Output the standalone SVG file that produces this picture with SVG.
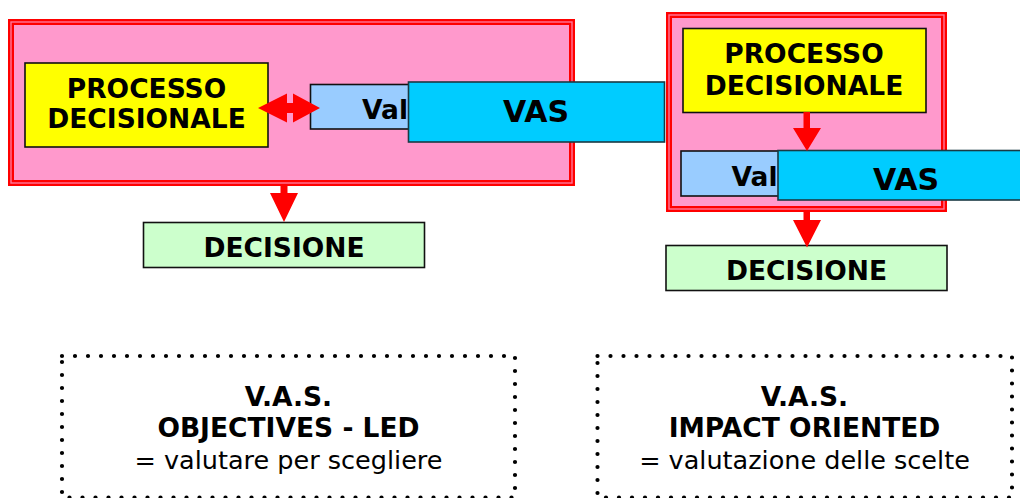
<svg xmlns="http://www.w3.org/2000/svg" width="1020" height="498" viewBox="0 0 1020 498">
<style>
.frame{fill:#FF99CC;stroke:#FF0000;stroke-width:6}
.frame2{fill:none;stroke:#FF7799;stroke-width:1.4}
.box{stroke:#111;stroke-width:1.6}
.yel{fill:#FFFF00}
.val{fill:#99CCFF}
.vas{fill:#00CCFF;stroke:#1a3a44}
.dec{fill:#CCFFCC}
.arr{fill:#FF0000}
.dots{fill:none;stroke:#000;stroke-width:4.2;stroke-linecap:round;stroke-dasharray:0 13}
text{font-family:"DejaVu Sans",Verdana,sans-serif;fill:#000}
.b{font-weight:bold;font-size:26.5px}
.big{font-weight:bold;font-size:30px}
.r{font-size:25.5px}
.c{text-anchor:middle}
</style>
<g id="frame-left">
<rect class="frame" x="11" y="22" width="561" height="161"/>
<rect class="frame2" x="11" y="22" width="561" height="161"/>
</g>
<g id="frame-right">
<rect class="frame" x="669" y="15" width="275" height="194"/>
<rect class="frame2" x="669" y="15" width="275" height="194"/>
</g>
<g id="processo-left">
<rect class="box yel" x="25" y="63" width="243" height="84"/>
<text class="b c" x="146.5" y="98">PROCESSO</text>
<text class="b c" x="146.5" y="128">DECISIONALE</text>
</g>
<g id="val-left">
<rect class="box val" x="310.5" y="84.5" width="140" height="44.5"/>
<text class="b" x="362" y="119">Val</text>
</g>
<g id="vas-left">
<rect class="box vas" x="408.5" y="82" width="256" height="60"/>
<text class="big c" x="536" y="122">VAS</text>
</g>
<g id="decisione-left">
<rect class="box dec" x="143.5" y="222.5" width="281" height="45"/>
<text class="b c" x="284" y="257">DECISIONE</text>
</g>
<g id="processo-right">
<rect class="box yel" x="683" y="28.5" width="243" height="84"/>
<text class="b c" x="804" y="63">PROCESSO</text>
<text class="b c" x="804" y="95">DECISIONALE</text>
</g>
<g id="val-right">
<rect class="box val" x="681" y="151" width="140" height="45"/>
<text class="b" x="731.5" y="186">Val</text>
</g>
<g id="vas-right">
<rect class="box vas" x="778" y="150.5" width="250" height="49.5"/>
<text class="big c" x="906" y="190">VAS</text>
</g>
<g id="decisione-right">
<rect class="box dec" x="666" y="245.5" width="281" height="45"/>
<text class="b c" x="806.5" y="280">DECISIONE</text>
</g>
<g id="connectors">
<polygon class="arr" points="258,108 287,93.5 287,103 293,103 293,93.5 320,108 293,122.5 293,113 287,113 287,122.5"/>
<polygon class="arr" points="280.5,185 287.5,185 287.5,193 298,193 284,222 270,193 280.5,193"/>
<polygon class="arr" points="803.5,112 810,112 810,128 821,128 807,151 793,128 803.5,128"/>
<polygon class="arr" points="803.5,211 810,211 810,220 821,220 807,247.5 793,220 803.5,220"/>
</g>
<g id="objectives-led">
<rect class="dots" x="62" y="356" width="453" height="141.5"/>
<text class="b c" x="288.5" y="406">V.A.S.</text>
<text class="b c" x="288.5" y="437">OBJECTIVES - LED</text>
<text class="r c" x="288.5" y="469">= valutare per scegliere</text>
</g>
<g id="impact-oriented">
<rect class="dots" x="597.5" y="356" width="414.5" height="141.5"/>
<text class="b c" x="804.5" y="406">V.A.S.</text>
<text class="b c" x="804.5" y="437">IMPACT ORIENTED</text>
<text class="r c" x="804.5" y="469">= valutazione delle scelte</text>
</g>
</svg>
